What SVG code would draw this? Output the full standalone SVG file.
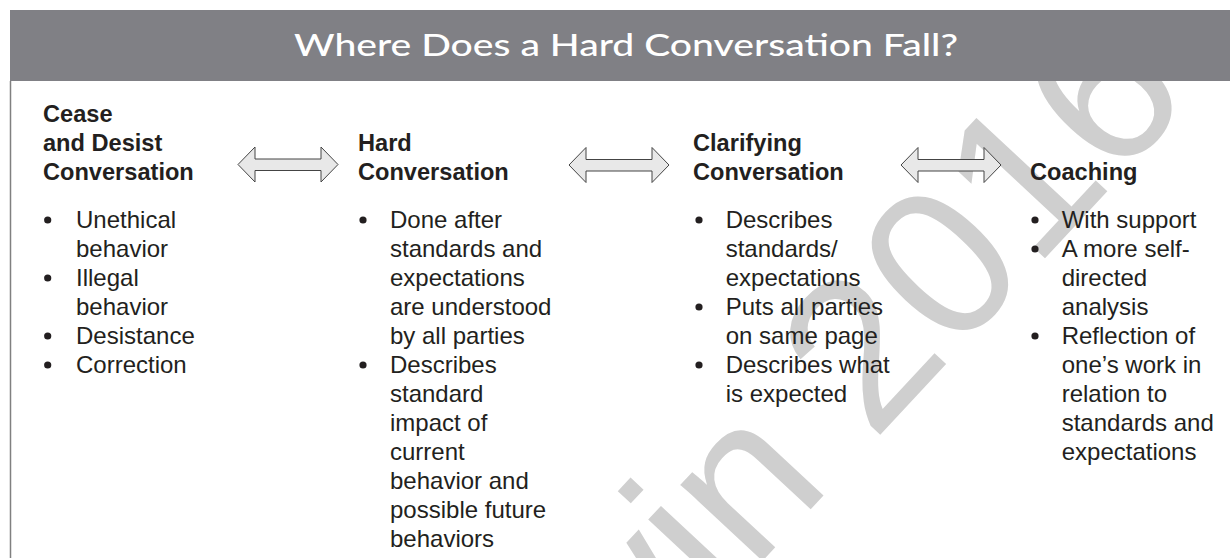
<svg xmlns="http://www.w3.org/2000/svg" width="1230" height="558" viewBox="0 0 1230 558">
<style>
.t{font-family:"Liberation Sans",Arial,sans-serif;font-size:24px;fill:#231f20}
.h{font-family:"Liberation Sans",Arial,sans-serif;font-size:23.6px;font-weight:bold;fill:#231f20}
.b{fill:#231f20}
.arr{fill:#e8e8e8;stroke:#444444;stroke-width:1}
.wm{font-family:"Liberation Sans",Arial,sans-serif;font-size:212px;fill:#cfcfcf}
</style>
<defs>
<path id="dbl" d="M0,17.5 L17,0 L17,12 L83,12 L83,0 L100,17.5 L83,35 L83,23.5 L17,23.5 L17,35 Z"/>
</defs>
<rect width="1230" height="558" fill="#ffffff"/>
<g id="watermark">
<text class="wm" transform="translate(383,968) rotate(-47)">Corwin 2016</text>
</g>
<g id="header">
<rect x="10" y="10" width="1220" height="71" fill="#808085"/>
<text x="626" y="56" text-anchor="middle" textLength="664" lengthAdjust="spacingAndGlyphs" font-family="Lato,'Noto Sans',sans-serif" font-size="30" font-weight="500" fill="#ffffff">Where Does a Hard Conversation Fall?</text>
</g>
<line x1="10.5" y1="81" x2="10.5" y2="558" stroke="#808080" stroke-width="1.5"/>
<g id="node-cease">
<text class="h" x="43" y="121.5">Cease</text>
<text class="h" x="43" y="150.5">and Desist</text>
<text class="h" x="43" y="179.5">Conversation</text>
<circle class="b" cx="47.7" cy="220" r="3.6"/>
<circle class="b" cx="47.7" cy="278" r="3.6"/>
<circle class="b" cx="47.7" cy="336" r="3.6"/>
<circle class="b" cx="47.7" cy="365" r="3.6"/>
<text class="t" x="76" y="228">Unethical</text>
<text class="t" x="76" y="257">behavior</text>
<text class="t" x="76" y="286">Illegal</text>
<text class="t" x="76" y="315">behavior</text>
<text class="t" x="76" y="344">Desistance</text>
<text class="t" x="76" y="373">Correction</text>
</g>
<g id="node-hard">
<text class="h" x="358" y="150.5">Hard</text>
<text class="h" x="358" y="179.5">Conversation</text>
<circle class="b" cx="363" cy="220" r="3.6"/>
<circle class="b" cx="363" cy="365" r="3.6"/>
<text class="t" x="390" y="228">Done after</text>
<text class="t" x="390" y="257">standards and</text>
<text class="t" x="390" y="286">expectations</text>
<text class="t" x="390" y="315">are understood</text>
<text class="t" x="390" y="344">by all parties</text>
<text class="t" x="390" y="373">Describes</text>
<text class="t" x="390" y="402">standard</text>
<text class="t" x="390" y="431">impact of</text>
<text class="t" x="390" y="460">current</text>
<text class="t" x="390" y="489">behavior and</text>
<text class="t" x="390" y="518">possible future</text>
<text class="t" x="390" y="547">behaviors</text>
</g>
<g id="node-clarifying">
<text class="h" x="693" y="150.5">Clarifying</text>
<text class="h" x="693" y="179.5">Conversation</text>
<circle class="b" cx="699" cy="220" r="3.6"/>
<circle class="b" cx="699" cy="307" r="3.6"/>
<circle class="b" cx="699" cy="365" r="3.6"/>
<text class="t" x="725.7" y="228">Describes</text>
<text class="t" x="725.7" y="257">standards/</text>
<text class="t" x="725.7" y="286">expectations</text>
<text class="t" x="725.7" y="315">Puts all parties</text>
<text class="t" x="725.7" y="344">on same page</text>
<text class="t" x="725.7" y="373">Describes what</text>
<text class="t" x="725.7" y="402">is expected</text>
</g>
<g id="node-coaching">
<text class="h" x="1030" y="179.5">Coaching</text>
<circle class="b" cx="1035" cy="220" r="3.6"/>
<circle class="b" cx="1035" cy="249" r="3.6"/>
<circle class="b" cx="1035" cy="336" r="3.6"/>
<text class="t" x="1061.7" y="228">With support</text>
<text class="t" x="1061.7" y="257">A more self-</text>
<text class="t" x="1061.7" y="286">directed</text>
<text class="t" x="1061.7" y="315">analysis</text>
<text class="t" x="1061.7" y="344">Reflection of</text>
<text class="t" x="1061.7" y="373">one’s work in</text>
<text class="t" x="1061.7" y="402">relation to</text>
<text class="t" x="1061.7" y="431">standards and</text>
<text class="t" x="1061.7" y="460">expectations</text>
</g>
<g id="connectors">
<use href="#dbl" class="arr" x="238" y="147"/>
<use href="#dbl" class="arr" x="569" y="147.5"/>
<use href="#dbl" class="arr" x="901" y="147.5"/>
</g>
</svg>
